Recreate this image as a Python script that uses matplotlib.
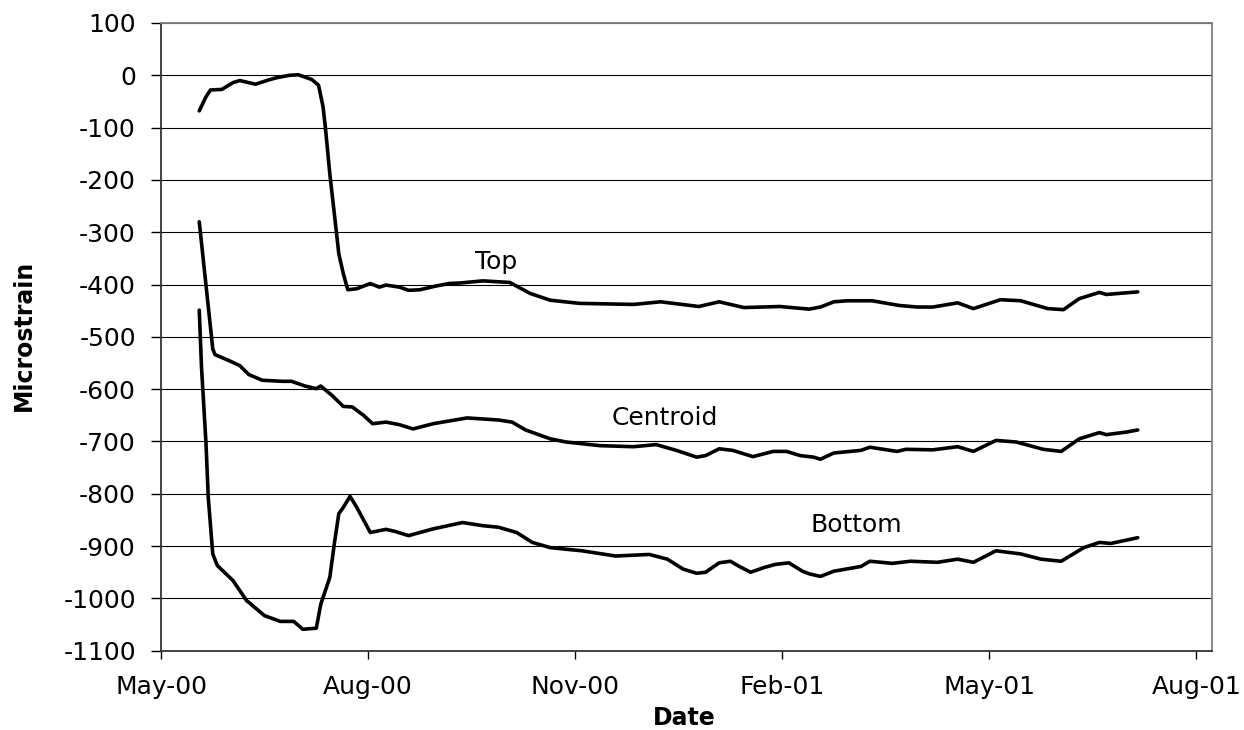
import datetime as dt
import matplotlib
matplotlib.use("Agg")
import matplotlib.pyplot as plt
import matplotlib.dates as mdates

# Strain gauge readings; x values are days after 1 May 2000
start_date = dt.date(2000, 5, 1)

top_days = [17.4, 20.3, 22.6, 27.0, 32.2, 35.9, 42.6, 47.0, 51.5, 57.4, 61.1, 67.8,
            70.0, 72.2, 73.7, 75.9, 77.4, 79.6, 81.1, 83.6, 87.1, 93.0, 97.4, 100.4,
            106.3, 110.8, 115.2, 122.7, 128.6, 133.0, 143.4, 155.3, 164.2, 173.1,
            186.4, 210.1, 222.0, 239.8, 248.7, 259.1, 275.4, 288.7, 293.2, 299.1,
            305.1, 316.9, 328.8, 336.2, 343.6, 354.0, 361.4, 373.3, 382.2, 394.0,
            401.4, 408.8, 417.7, 420.7, 434.1]
top_strain = [-68, -41, -28, -27, -14, -10, -17, -10, -5, 0, 1, -8,
              -19, -60, -98, -188, -264, -341, -379, -410, -408, -398, -405, -401,
              -405, -411, -410, -403, -398, -397, -393, -396, -417, -430,
              -436, -438, -433, -442, -433, -444, -442, -447, -443, -433,
              -431, -431, -440, -443, -443, -435, -446, -429, -431, -446,
              -448, -427, -415, -419, -414]

centroid_days = [17.7, 23.3, 24.8, 30.7, 35.1, 39.6, 45.5, 54.4, 58.9, 64.8, 69.3,
                 71.5, 76.7, 81.9, 85.6, 90.0, 94.4, 100.4, 106.3, 112.2, 121.1,
                 136.0, 150.8, 156.7, 162.7, 173.1, 180.5, 195.3, 210.1, 220.5,
                 229.4, 238.3, 242.8, 248.7, 254.6, 263.5, 272.4, 278.4, 284.3,
                 290.2, 293.9, 299.1, 311.0, 315.4, 327.3, 331.7, 343.6, 354.0,
                 361.4, 371.8, 380.7, 392.5, 400.0, 408.8, 417.7, 420.7, 429.6, 434.1]
centroid_strain = [-280, -523, -534, -545, -555, -572, -583, -585, -585, -594, -599,
                   -594, -612, -633, -634, -650, -666, -663, -668, -676, -666,
                   -655, -659, -663, -678, -695, -701, -708, -710, -706,
                   -717, -730, -727, -714, -717, -729, -719, -719, -727,
                   -730, -734, -722, -717, -711, -719, -715, -716, -710,
                   -719, -698, -701, -715, -719, -695, -683, -687, -682, -678]

bottom_days = [17.7, 18.8, 20.3, 21.8, 23.3, 25.5, 32.2, 38.1, 46.3, 53.7, 59.6,
               63.3, 69.3, 71.5, 75.2, 77.4, 79.6, 81.1, 84.1, 87.8, 93.7, 100.4,
               104.9, 110.0, 121.1, 134.5, 143.4, 150.8, 158.2, 165.6, 173.1,
               187.9, 202.7, 217.5, 225.0, 232.4, 238.3, 242.8, 248.7, 253.1,
               257.6, 262.8, 268.0, 273.9, 279.1, 285.7, 288.7, 293.9, 299.1,
               311.0, 315.4, 325.8, 333.2, 345.1, 354.0, 361.4, 371.8, 382.2,
               391.1, 400.0, 410.3, 417.7, 422.2, 434.1]
bottom_strain = [-449, -558, -704, -807, -915, -937, -966, -1004, -1033, -1044, -1044,
                 -1059, -1057, -1011, -960, -896, -838, -826, -805, -826, -874, -868,
                 -872, -880, -867, -855, -861, -864, -874, -893, -903,
                 -909, -919, -916, -925, -944, -952, -950, -932, -929,
                 -939, -950, -941, -935, -932, -948, -953, -958, -948,
                 -939, -929, -933, -929, -931, -925, -931, -909, -915,
                 -925, -929, -903, -893, -895, -884]

series_labels = ["Top", "Centroid", "Bottom"]
label_days = [149.7, 224.9, 309.6]
label_strain = [-357, -655, -860]

y_ticks = list(range(-1100, 101, 100))
x_tick_days = [0, 92, 184, 276, 368, 460]
x_limit_days = 467.6


def to_dates(days):
    return [start_date + dt.timedelta(days=d) for d in days]


plt.rcParams["font.family"] = ["DejaVu Sans"]
plt.rcParams["axes.unicode_minus"] = False

fig = plt.figure(figsize=(12.44, 7.30), dpi=100)
ax = fig.add_axes([161 / 1244, 1 - 650.7 / 730, (1212 - 161) / 1244, (650.7 - 23) / 730])

for days, strain in [(top_days, top_strain),
                     (centroid_days, centroid_strain),
                     (bottom_days, bottom_strain)]:
    ax.plot(to_dates(days), strain, color="black", lw=2.6,
            solid_joinstyle="round", solid_capstyle="round", zorder=3)

for text, d, s in zip(series_labels, label_days, label_strain):
    ax.text(to_dates([d])[0], s, text, fontsize=18, ha="center", va="center")

ax.set_ylim(-1100, 100)
ax.set_yticks(y_ticks)
ax.set_xlim(to_dates([0, x_limit_days]))
ax.set_xticks(to_dates(x_tick_days))
ax.xaxis.set_major_formatter(mdates.DateFormatter("%b-%y"))

ax.grid(axis="y", color="black", lw=0.8, zorder=0)
ax.set_axisbelow(True)

for side in ("left", "bottom"):
    ax.spines[side].set_color("#333333")
    ax.spines[side].set_linewidth(1.3)
for side in ("top", "right"):
    ax.spines[side].set_color("#808080")
    ax.spines[side].set_linewidth(1.3)

ax.tick_params(axis="y", direction="out", length=7, width=1, labelsize=18, pad=11)
ax.tick_params(axis="x", direction="out", length=5.5, width=1, labelsize=18, pad=12)

fig.text(23.5 / 1244, 1 - 335 / 730, "Microstrain", rotation=90, fontsize=17,
         fontweight="bold", ha="center", va="center")
fig.text(684 / 1244, 1 - 718 / 730, "Date", fontsize=17,
         fontweight="bold", ha="center", va="center")

fig.savefig("out.png", dpi=100)
